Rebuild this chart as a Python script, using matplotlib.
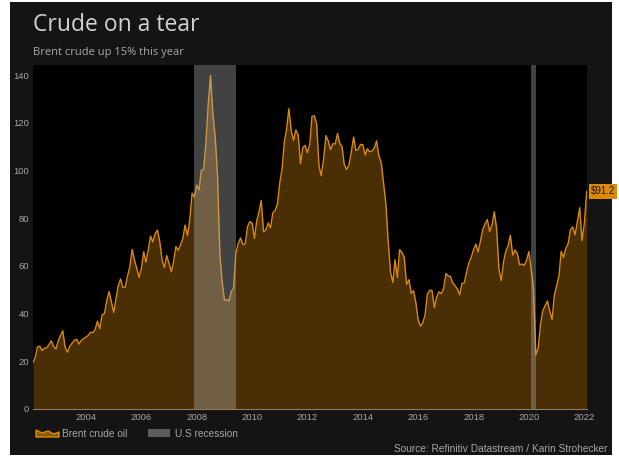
import numpy as np
import pandas as pd
import matplotlib
matplotlib.use("Agg")
import matplotlib.pyplot as plt
import matplotlib.dates as mdates
from matplotlib.patches import Rectangle, Polygon

# Brent crude, month-end close (USD/bbl), Jan 2002 .. Jan 2022
brent_2002 = [19.5, 21.4, 26.0, 26.3, 24.5, 25.5, 25.6, 27.0, 28.6, 26.0, 25.2, 28.6]
brent_2003 = [31.0, 32.8, 25.8, 23.8, 26.3, 27.6, 28.8, 29.2, 27.2, 28.8, 29.6, 30.1]
brent_2004 = [30.9, 32.2, 32.0, 33.4, 36.8, 33.6, 39.5, 40.0, 45.5, 49.2, 45.0, 40.4]
brent_2005 = [46.5, 51.5, 54.5, 51.0, 51.0, 55.6, 59.5, 66.9, 62.5, 59.0, 55.2, 59.0]
brent_2006 = [65.9, 61.5, 66.5, 72.5, 70.0, 73.5, 75.0, 70.0, 62.5, 59.3, 64.3, 61.0]
brent_2007 = [57.5, 61.8, 68.1, 66.5, 68.7, 71.4, 77.1, 72.7, 79.2, 90.5, 88.8, 93.9]
brent_2008 = [91.8, 100.1, 100.3, 111.4, 127.8, 139.8, 123.5, 114.0, 98.2, 65.0, 53.5, 45.6]
brent_2009 = [45.9, 45.2, 49.2, 50.6, 65.4, 69.3, 71.7, 69.0, 69.1, 76.4, 78.5, 77.9]
brent_2010 = [71.5, 78.5, 82.7, 87.4, 74.3, 75.0, 78.0, 76.0, 82.3, 83.2, 86.0, 94.8]
brent_2011 = [101.0, 111.8, 117.4, 125.9, 116.7, 112.5, 117.0, 114.9, 102.8, 109.6, 110.5, 107.4]
brent_2012 = [111.0, 122.7, 122.9, 119.5, 101.9, 97.8, 104.9, 114.6, 112.4, 108.7, 111.2, 111.1]
brent_2013 = [115.5, 111.4, 110.0, 102.4, 100.4, 102.2, 107.7, 114.0, 108.4, 108.8, 110.9, 110.8]
brent_2014 = [106.4, 109.1, 107.8, 108.1, 109.4, 112.4, 106.0, 103.2, 94.7, 85.9, 70.2, 57.3]
brent_2015 = [53.0, 62.6, 55.1, 66.8, 65.6, 63.6, 52.2, 54.2, 48.4, 49.6, 44.6, 37.3]
brent_2016 = [34.7, 36.0, 39.6, 48.1, 49.7, 49.7, 42.5, 47.0, 49.1, 48.3, 50.5, 56.8]
brent_2017 = [55.7, 55.6, 52.8, 51.7, 50.3, 47.9, 52.7, 52.9, 57.5, 61.4, 63.6, 66.9]
brent_2018 = [69.1, 65.8, 70.3, 75.2, 77.6, 79.4, 74.3, 77.4, 82.7, 75.5, 58.7, 53.8]
brent_2019 = [61.9, 66.0, 68.4, 72.8, 64.5, 66.6, 65.2, 60.4, 60.8, 60.2, 62.4, 66.0]
brent_2020 = [58.2, 50.5, 22.7, 25.3, 35.3, 41.2, 43.3, 45.3, 41.0, 37.5, 47.6, 51.8]
brent_2021 = [55.9, 66.1, 63.5, 67.3, 69.3, 75.1, 76.3, 73.0, 78.5, 84.4, 70.6, 77.8]
brent_2022 = [91.2]

brent = (brent_2002 + brent_2003 + brent_2004 + brent_2005 + brent_2006 + brent_2007
         + brent_2008 + brent_2009 + brent_2010 + brent_2011 + brent_2012 + brent_2013
         + brent_2014 + brent_2015 + brent_2016 + brent_2017 + brent_2018 + brent_2019
         + brent_2020 + brent_2021 + brent_2022)
dates = pd.date_range("2002-01-31", periods=len(brent), freq="ME")

recessions = [("2007-12-01", "2009-06-01"), ("2020-02-01", "2020-04-01")]
tick_years = list(range(2004, 2023, 2))
y_ticks = [0, 20, 40, 60, 80, 100, 120, 140]

W, H = 619, 457
BG = "#141414"
ORANGE = "#d98a0c"
BROWN = "#4a2e05"
TXT = "#a6a6a6"


def fx(x):
    return x / W


def fy(y):
    return 1 - y / H


fig = plt.figure(figsize=(W / 100, H / 100), dpi=100, facecolor="white")
fig.patches.append(Rectangle((fx(10), fy(455)), fx(602), 453 / H,
                             transform=fig.transFigure, facecolor=BG,
                             edgecolor="none", zorder=-10))

ax = fig.add_axes([fx(33), fy(409), fx(586.7 - 33), (409 - 65) / H])
ax.set_facecolor("black")
ax.fill_between(dates, brent, 0, color=BROWN, lw=0, zorder=2)
ax.plot(dates, brent, color=ORANGE, lw=1.0, zorder=3)
for a, b in recessions:
    ax.axvspan(pd.Timestamp(a), pd.Timestamp(b), color="#b0b0b0", alpha=0.38,
               lw=0, zorder=4)

ax.set_xlim(dates[0], dates[-1])
ax.set_ylim(0, 144.2)
ax.set_yticks(y_ticks)
ax.set_xticks([pd.Timestamp(f"{y}-01-01") for y in tick_years])
ax.xaxis.set_major_formatter(mdates.DateFormatter("%Y"))
ax.tick_params(length=0, labelsize=6.8, labelcolor=TXT, pad=3)
for lab in ax.get_xticklabels() + ax.get_yticklabels():
    lab.set_family("Liberation Sans")
for s in ["top", "right", "left"]:
    ax.spines[s].set_visible(False)
ax.spines["bottom"].set_color("#8c7a5a")
ax.spines["bottom"].set_linewidth(0.8)
ax.spines["bottom"].set_zorder(5)

# last value tag
ax.annotate(f"${brent[-1]}", xy=(dates[-1], brent[-1]), xytext=(3, 0),
            textcoords="offset points", va="center", ha="left",
            fontsize=7, family="Liberation Sans", color="#2a1a00",
            annotation_clip=False,
            bbox=dict(boxstyle="square,pad=0.22", fc="#d98a0c", ec="none"))

# titles
fig.text(fx(33), fy(31), "Crude on a tear", fontsize=16.5, color="#d2d2d2",
         family="Open Sans", va="baseline")
fig.text(fx(33), fy(55), "Brent crude up 15% this year", fontsize=8,
         color="#a8a8a8", family="Open Sans", va="baseline")

# legend
icon = Polygon([(fx(36), fy(437)), (fx(36), fy(430)), (fx(42), fy(433)),
                (fx(48), fy(431)), (fx(54), fy(434)), (fx(59), fy(432)),
                (fx(59), fy(437))], closed=True, transform=fig.transFigure,
               facecolor="#8a5a10", edgecolor=ORANGE, lw=1)
fig.patches.append(icon)
fig.text(fx(62), fy(437), "Brent crude oil", fontsize=7.3, color=TXT,
         family="Liberation Sans", va="baseline")
fig.patches.append(Rectangle((fx(148), fy(437)), fx(22), 8 / H,
                             transform=fig.transFigure, facecolor="#5c5c5c",
                             edgecolor="none"))
fig.text(fx(175), fy(437), "U.S recession", fontsize=7.3, color=TXT,
         family="Liberation Sans", va="baseline")
fig.text(fx(607), fy(452), "Source: Refinitiv Datastream / Karin Strohecker",
         fontsize=7.3, color=TXT, family="Liberation Sans", va="baseline",
         ha="right")

fig.savefig("out.png", dpi=100, facecolor="white")
